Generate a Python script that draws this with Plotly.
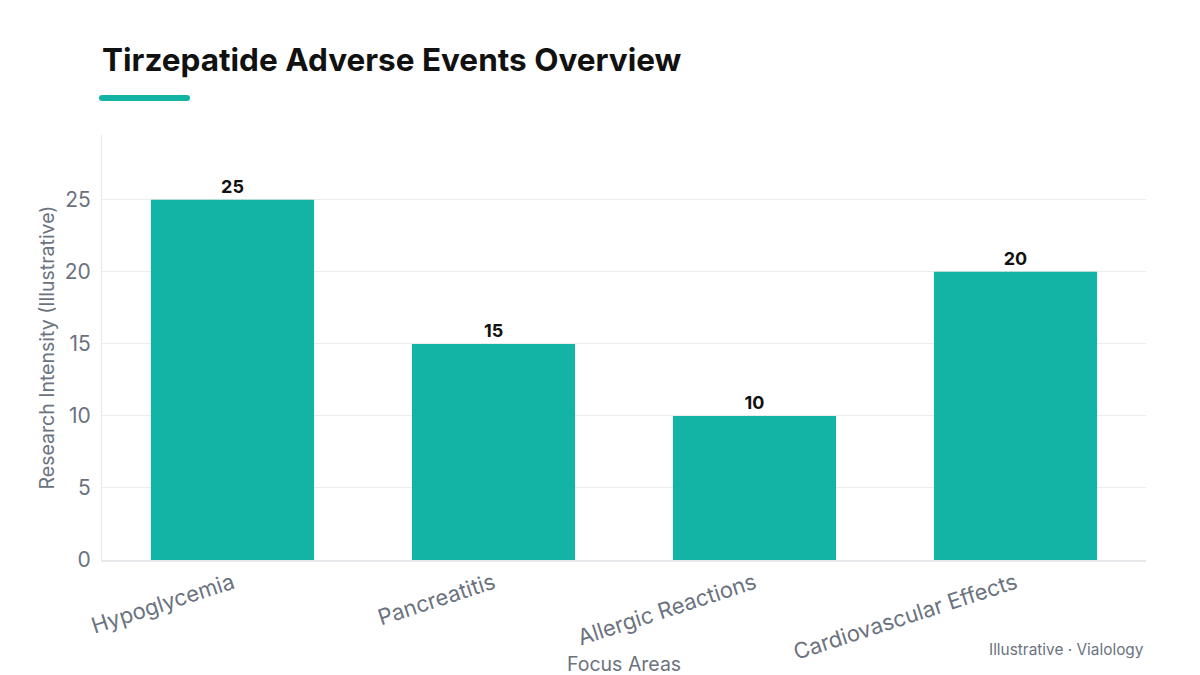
import plotly.graph_objects as go

categories = ["Hypoglycemia", "Pancreatitis", "Allergic Reactions", "Cardiovascular Effects"]
values = [25, 15, 10, 20]

TEAL = "#13B3A6"
FONT = "Inter, 'Open Sans', sans-serif"

W, H = 1200, 675
L, R, T, B = 102, 54, 135, 115
PW, PH = W - L - R, H - T - B

def px(x):
    return (x - L) / PW

def py(y):
    return (H - B - y) / PH

fig = go.Figure(go.Bar(
    x=categories, y=values, marker=dict(color=TEAL, line=dict(width=0)),
    text=[str(v) for v in values], textposition="outside",
    textfont=dict(family=FONT, size=18, color="#111111", weight=700),
    cliponaxis=False, width=0.625,
))

fig.update_layout(
    width=W, height=H, margin=dict(l=L, r=R, t=T, b=B),
    paper_bgcolor="white", plot_bgcolor="white",
    font=dict(family=FONT, color="#6b7280"),
    title=dict(text="<b>Tirzepatide Adverse Events Overview</b>", x=L / W, xanchor="left",
               y=1 - 60 / H, yanchor="middle", font=dict(family=FONT, size=31.5, color="#111111")),
    showlegend=False,
    xaxis=dict(tickangle=-18, tickfont=dict(size=22, color="#6b7280"), automargin=False,
               showline=True, linecolor="#e5e7eb", linewidth=2, ticks="", showgrid=False),
    yaxis=dict(range=[0, 29.5], dtick=5, tickfont=dict(size=21, color="#6b7280"), automargin=False,
               title=dict(text="Research Intensity (Illustrative)", font=dict(size=19.5, color="#6b7280"), standoff=4),
               showline=True, linecolor="#e5e7eb", linewidth=1, gridcolor="#ececec", gridwidth=1,
               zeroline=False, ticks="", ticklabelstandoff=6),
)

fig.add_shape(type="line", xref="paper", yref="paper", x0=px(102), x1=px(187), y0=py(98), y1=py(98),
              line=dict(color=TEAL, width=6))
for cx in (102, 187):
    fig.add_shape(type="circle", xref="paper", yref="paper", x0=px(cx - 3), x1=px(cx + 3),
                  y0=py(95), y1=py(101), fillcolor=TEAL, line=dict(width=0))

fig.add_annotation(text="Focus Areas", xref="paper", yref="paper", x=0.5, xanchor="center",
                   y=py(664), yanchor="middle", showarrow=False, font=dict(family=FONT, size=19.5, color="#6b7280"))

fig.add_annotation(text="Illustrative · Vialology", xref="paper", yref="paper", x=1, xanchor="right",
                   y=py(649), yanchor="middle", showarrow=False, font=dict(family=FONT, size=15.4, color="#6b7280"))

fig.write_html("out.html")
